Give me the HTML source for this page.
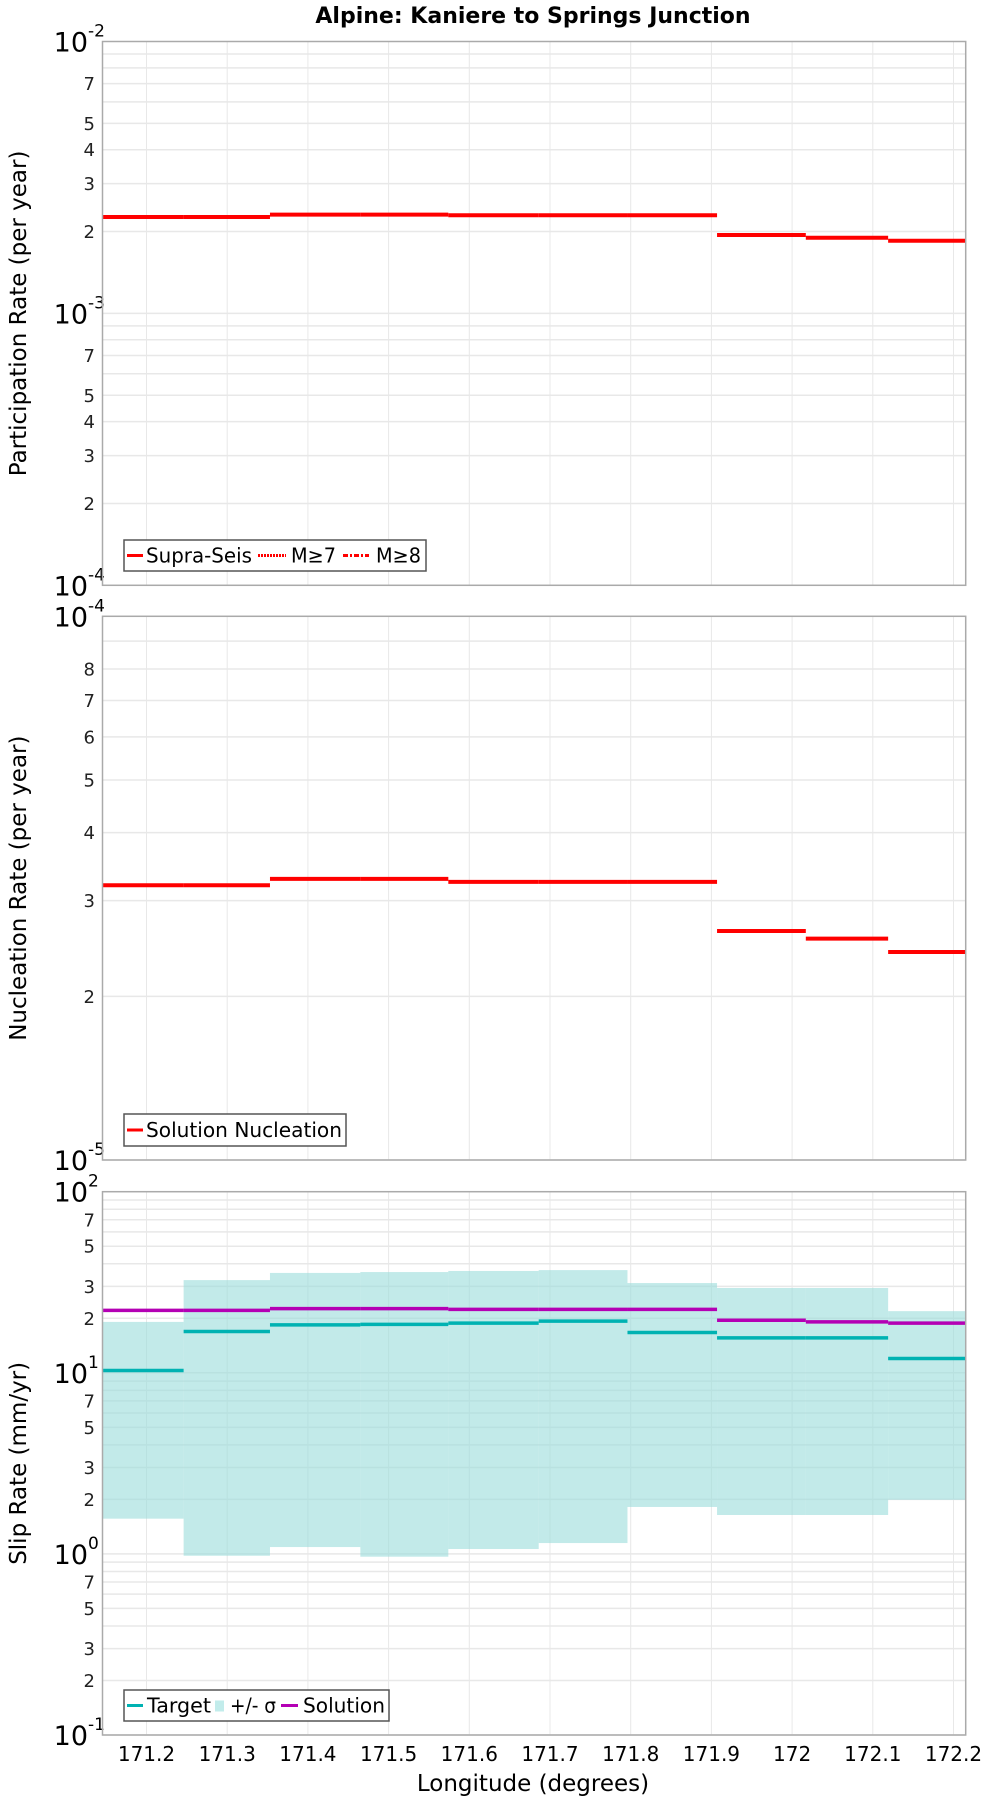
<!DOCTYPE html>
<html><head><meta charset="utf-8"><style>
body{margin:0;background:#fff;}
svg{display:block;font-family:"DejaVu Sans","Liberation Sans",sans-serif;}
</style></head><body>
<svg id="chart" width="1000" height="1800" viewBox="0 0 1000 1800" xmlns="http://www.w3.org/2000/svg">
<text x="533" y="23" text-anchor="middle" font-size="22" font-weight="bold">Alpine: Kaniere to Springs Junction</text>
<text x="533" y="1791" text-anchor="middle" font-size="23">Longitude (degrees)</text>
</svg>
<script>
const sectionEdges = [171.1455,171.246,171.353,171.465,171.574,171.686,171.796,171.907,172.017,172.119,172.215];
const xTicks = [171.2,171.3,171.4,171.5,171.6,171.7,171.8,171.9,172,172.1,172.2];
const xTickLabels = ["171.2","171.3","171.4","171.5","171.6","171.7","171.8","171.9","172","172.1","172.2"];
const participation = [2.262e-3,2.262e-3,2.307e-3,2.307e-3,2.296e-3,2.296e-3,2.296e-3,1.942e-3,1.898e-3,1.851e-3];
const nucleation = [3.201e-5,3.201e-5,3.289e-5,3.289e-5,3.247e-5,3.247e-5,3.247e-5,2.637e-5,2.554e-5,2.413e-5];
const slipTarget = [10.3,16.9,18.4,18.5,18.8,19.3,16.7,15.6,15.6,12.0];
const slipUpper = [19.1,32.5,35.6,36.0,36.5,36.9,31.3,29.4,29.4,21.9];
const slipLower = [1.565,0.977,1.091,0.965,1.064,1.148,1.816,1.64,1.64,1.99];
const slipSolution = [22.1,22.1,22.6,22.6,22.4,22.4,22.4,19.5,19.1,18.8];
const p1Ticks = [2,3,4,5,7];
const p2Ticks = [2,3,4,5,6,7,8];
const p3Ticks = [2,3,5,7];

const NS="http://www.w3.org/2000/svg";
const svg=document.getElementById('chart');
const L=102.5,R=965.7;
const X0=171.2,X1=172.2,PX0=146.5,PX1=953.5;
function xs(v){return PX0+(v-X0)/(X1-X0)*(PX1-PX0);}
function mk(tag,attrs,parent){const e=document.createElementNS(NS,tag);for(const k in attrs)e.setAttribute(k,attrs[k]);(parent||svg).appendChild(e);return e;}

function panel(name,top,bot,minExp,maxExp,labelTicks,title){
  const g=mk('g',{});
  
  
  const ys=v=>bot-(Math.log10(v)-minExp)/(maxExp-minExp)*(bot-top);
  for(let e=minExp;e<maxExp;e++){
    for(let m=1;m<=9;m++){
      const v=m*Math.pow(10,e);const y=ys(v);
      const gl=mk('line',{x1:L,x2:R,y1:y,y2:y,stroke:'#e8e8e8','stroke-width':1.5},g);
      
      
      if(labelTicks.indexOf(m)>=0){
        const t=mk('text',{x:95,y:y+6.5,'text-anchor':'end','font-size':18,fill:'#222'},g);
        t.textContent=m;
        
        
      }
    }
  }
  xTicks.forEach(v=>{
    const gl=mk('line',{x1:xs(v),x2:xs(v),y1:top,y2:bot,stroke:'#e8e8e8','stroke-width':1},g);
    
    
  });
  for(let e=minExp;e<=maxExp;e++){
    const y=ys(Math.pow(10,e));
    const t=mk('text',{x:88,y:y+10,'text-anchor':'end','font-size':27},g);
    t.textContent='10';
    
    
    const s=mk('text',{x:88,y:y-5,'text-anchor':'start','font-size':17},g);
    s.textContent=String(e);
    
    
  }
  const at=mk('text',{x:0,y:0,'text-anchor':'middle','font-size':23,transform:`translate(26,${(top+bot)/2}) rotate(-90)`},g);
  at.textContent=title;
  
  
  return {g,ys,top,bot};
}
function frame(p,name){
  const r=mk('rect',{x:L,y:p.top,width:R-L,height:p.bot-p.top,fill:'none',stroke:'#aaa','stroke-width':1.5},p.g);
  
  
}
function steps(p,vals,color,name,w){
  vals.forEach((v,i)=>{
    const y=p.ys(v);
    const l=mk('line',{x1:xs(sectionEdges[i]),x2:xs(sectionEdges[i+1]),y1:y,y2:y,stroke:color,'stroke-width':w||4},p.g);
    
    
  });
}
function legend(p,x,y,w,h,items){
  const lg=mk('g',{},p.g);
  
  
  const r=mk('rect',{x:x,y:y,width:w,height:h,fill:'#fff',stroke:'#555','stroke-width':1.5},lg);
  
  
  items.forEach(it=>{
    if(it.type==='sq'){
      const s=mk('rect',{x:it.sx,y:y+h/2-5,width:9,height:11,fill:it.color},lg);
      
      
    } else {
      const s=mk('line',{x1:it.sx,x2:it.sx+it.sw,y1:y+h/2,y2:y+h/2,stroke:it.color,'stroke-width':3,'stroke-dasharray':it.dash||''},lg);
      
      
    }
    const t=mk('text',{x:it.tx,y:y+h/2+7,'font-size':20,textLength:it.tw,lengthAdjust:'spacingAndGlyphs'},lg);
    t.textContent=it.label;
    
    
  });
}

// Panel 1
const p1=panel('participation',41.5,585.3,-4,-2,p1Ticks,'Participation Rate (per year)');
steps(p1,participation,'#ff0000','participation-rate',4);
frame(p1,'participation');
legend(p1,124,540,302,31,[
  {color:'#f00',label:'Supra-Seis',sx:127,sw:16,tx:146,tw:106},
  {color:'#f00',label:'M≥7',dash:'2,1',sx:258,sw:28,tx:291,tw:45},
  {color:'#f00',label:'M≥8',dash:'5,2,2,2',sx:343,sw:26,tx:376,tw:45}]);

// Panel 2
const p2=panel('nucleation',616.3,1160,-5,-4,p2Ticks,'Nucleation Rate (per year)');
steps(p2,nucleation,'#ff0000','nucleation-rate',4);
frame(p2,'nucleation');
legend(p2,124,1114,222,32,[{color:'#f00',label:'Solution Nucleation',sx:127,sw:16,tx:146,tw:196}]);

// Panel 3
const p3=panel('slip',1191.7,1735,-1,2,p3Ticks,'Slip Rate (mm/yr)');
slipUpper.forEach((u,i)=>{
  const y1=p3.ys(u),y2=p3.ys(slipLower[i]);
  const r=mk('rect',{x:xs(sectionEdges[i]),y:y1,width:xs(sectionEdges[i+1])-xs(sectionEdges[i]),height:y2-y1,fill:'#9adcdb','fill-opacity':0.6},p3.g);
  
  
});
steps(p3,slipTarget,'#00b2b2','slip-target',3.5);
steps(p3,slipSolution,'#b400b4','slip-solution',3.5);
frame(p3,'slip');
legend(p3,124,1690,265,31,[
  {color:'#00b2b2',label:'Target',sx:127,sw:16,tx:147,tw:64},
  {type:'sq',color:'#c2eceb',label:'+/- σ',sx:215,tx:230,tw:46},
  {color:'#b400b4',label:'Solution',sx:281,sw:17,tx:303,tw:82}]);

// x tick labels
xTicks.forEach((v,i)=>{
  const t=mk('text',{x:xs(v),y:1761,'text-anchor':'middle','font-size':20});
  t.textContent=xTickLabels[i];
  
  
});
</script>
</body></html>
